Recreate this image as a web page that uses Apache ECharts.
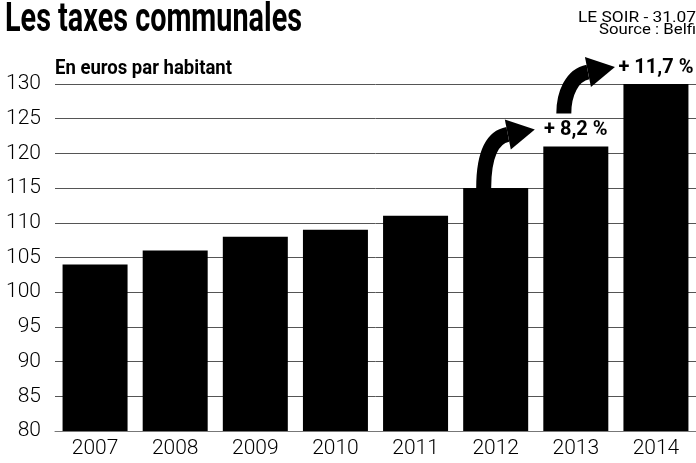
<!DOCTYPE html>
<html><head><meta charset="utf-8">
<script src="https://cdn.jsdelivr.net/npm/echarts@6/dist/echarts.min.js"></script>
<style>html,body{margin:0;padding:0;background:#fff}#c{width:696px;height:463px}</style>
</head><body><div id="c"></div>
<script>
const years = ['2007','2008','2009','2010','2011','2012','2013','2014'];
const values = [104, 106, 108, 109, 111, 115, 121, 130];
const growthLabels = ['', '', '', '', '', '', '+ 8,2 %', '+ 11,7 %'];
const yTicks = [80, 85, 90, 95, 100, 105, 110, 115, 120, 125, 130];
const arrows = [['2012','2013'], ['2013','2014']];
const titleText = 'Les taxes communales';
const subtitleText = 'En euros par habitant';
const creditText = 'LE SOIR - 31.07.2013';
const sourceText = 'Source : Belfius';

const FONT = 'Roboto';
const chart = echarts.init(document.getElementById('c'));
const option = {
  animation: false,
  backgroundColor: '#fff',
  grid: { left: 55, right: -4, top: 84, bottom: 32, containLabel: false },
  xAxis: {
    type: 'category', data: years,
    axisLine: { show: true, lineStyle: { color: '#777', width: 1 } },
    axisTick: { show: false },
    axisLabel: { margin: 7, fontFamily: FONT, fontWeight: 300, fontSize: 21, color: '#000' }
  },
  yAxis: {
    type: 'value', min: yTicks[0], max: yTicks[yTicks.length - 1], interval: 5,
    axisLine: { show: false }, axisTick: { show: false },
    axisLabel: { margin: 14, fontFamily: FONT, fontWeight: 300, fontSize: 21, color: '#000' },
    splitLine: { show: true, lineStyle: { color: '#555', width: 1 } }
  },
  series: [{
    type: 'bar', data: values, barWidth: 65,
    itemStyle: { color: '#000' },
    label: {
      show: true, position: 'top', distance: 6,
      fontFamily: FONT, fontWeight: 'bold', fontSize: 20, color: '#000',
      formatter: p => growthLabels[p.dataIndex]
    }
  }]
};
chart.setOption(option);

const ctx = document.createElement('canvas').getContext('2d');
function fitText(text, measured, targetW, size, weight, x, y) {
  ctx.font = weight + ' ' + size + 'px ' + FONT;
  const w = ctx.measureText(measured).width;
  return {
    type: 'text', x: x, y: y, scaleX: targetW / w, scaleY: 1, z: 20,
    style: { text: text, fontFamily: FONT, fontWeight: weight, fontSize: size,
             fill: '#000', verticalAlign: 'top', align: 'left' }
  };
}

function arrowGraphics() {
  const els = [];
  arrows.forEach(([from, to]) => {
    const fi = years.indexOf(from), ti = years.indexOf(to);
    const pf = chart.convertToPixel({ seriesIndex: 0 }, [fi, values[fi]]);
    const pt = chart.convertToPixel({ seriesIndex: 0 }, [ti, values[ti]]);
    const sx = pf[0] - 12;
    const sy = growthLabels[fi] ? pf[1] - 33 : pf[1];
    const tx = pt[0] - 41, ty = pt[1] - 17;
    const bx = tx - 27, by = ty + 5;
    els.push({
      type: 'bezierCurve', z: 10,
      shape: { x1: sx, y1: sy, x2: bx, y2: by, cpx1: sx, cpy1: by + 22, cpx2: sx + 8, cpy2: by + 3 },
      style: { stroke: '#000', lineWidth: 15, fill: null, lineCap: 'butt' }
    });
    els.push({
      type: 'polygon', z: 11,
      shape: { points: [[bx - 3, by - 15], [tx, ty], [bx + 3, by + 15]] },
      style: { fill: '#000' }
    });
  });
  return els;
}
const texts = [
  fitText(titleText, titleText, 297, 40, 'bold', 5, 1),
  fitText(subtitleText, subtitleText, 177, 20, 'bold', 55, 59),
  fitText(creditText, 'LE SOIR - 31.07', 118, 14, 'normal', 578, 11),
  fitText(sourceText, 'Source : Belfi', 97, 14, 'normal', 599, 23)
];
chart.setOption({ graphic: arrowGraphics().concat(texts) });
</script></body></html>
